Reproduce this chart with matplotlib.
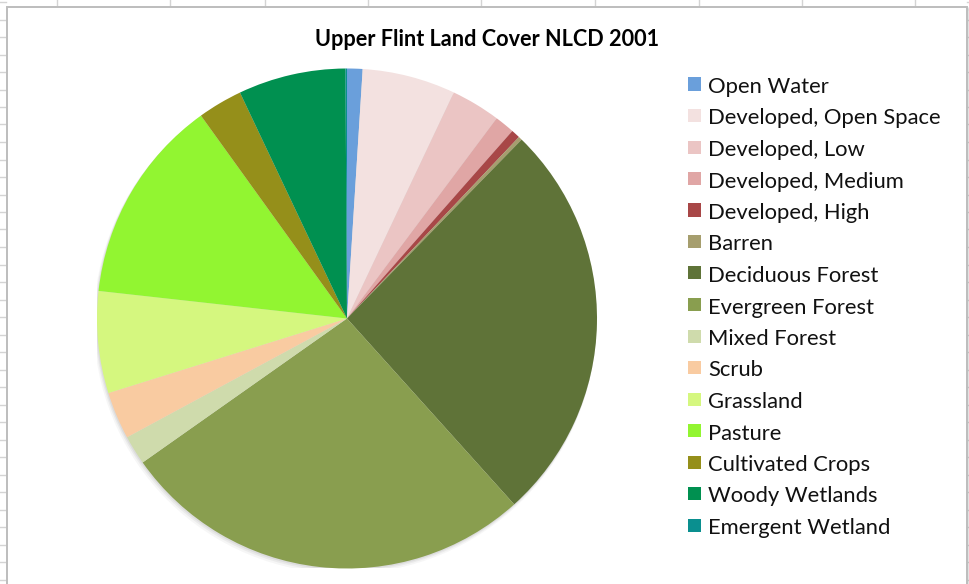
import matplotlib
matplotlib.use("Agg")
import matplotlib.pyplot as plt
from matplotlib.patches import Rectangle, Circle
from matplotlib.lines import Line2D

# Land cover classes (share of basin area, %) and their NLCD-style colours
categories = [
    "Open Water", "Developed, Open Space", "Developed, Low", "Developed, Medium",
    "Developed, High", "Barren", "Deciduous Forest", "Evergreen Forest",
    "Mixed Forest", "Scrub", "Grassland", "Pasture", "Cultivated Crops",
    "Woody Wetlands", "Emergent Wetland",
]
shares = [1.00, 6.03, 3.19, 1.28, 0.57, 0.24, 26.03, 26.89,
          1.89, 3.06, 6.58, 13.31, 2.89, 6.94, 0.10]
colors = ["#6A9FDB", "#F3E1E0", "#EBC5C4", "#E0A6A5", "#A84747", "#A69E6E",
          "#5F7338", "#899E4F", "#CFDBAC", "#F9CBA1", "#D5F77F", "#92F531",
          "#958F1A", "#009050", "#0A8F8F"]
title = "Upper Flint Land Cover NLCD 2001"

W, H = 970, 584
fig = plt.figure(figsize=(W / 100, H / 100), dpi=100)
fig.patch.set_facecolor("white")


def fx(px):
    return px / W


def fy(py):
    return 1 - py / H


# worksheet gridlines around the embedded chart
grid_col = "#D4D4D4"
for gx in [57, 170, 265, 368, 481, 595, 699, 802, 915]:
    fig.add_artist(Line2D([fx(gx), fx(gx)], [fy(0), fy(7)], color=grid_col, lw=1, zorder=-5))
ry = 2
while ry < H:
    fig.add_artist(Line2D([fx(0), fx(6)], [fy(ry), fy(ry)], color=grid_col, lw=1, zorder=-5))
    fig.add_artist(Line2D([fx(967), fx(970)], [fy(ry), fy(ry)], color=grid_col, lw=1, zorder=-5))
    ry += 17.5

# chart area with a soft drop shadow
for off, a in [(3, 0.08), (2, 0.12), (1, 0.18)]:
    fig.add_artist(Rectangle((fx(7 + off), fy(H + 20)), fx(960), (H + 13 - off) / H,
                             transform=fig.transFigure, facecolor="none",
                             edgecolor="#888888", alpha=a, lw=1.2, zorder=-4))
fig.add_artist(Rectangle((fx(7), fy(H + 20)), fx(960), (H + 13) / H,
                         transform=fig.transFigure, facecolor="white",
                         edgecolor="#BDBDBD", lw=1.4, zorder=-3))

# pie axes: centre (347, 318.5) px, radius 250 px
cx, cy, r = 347, 318.5, 250
ax = fig.add_axes([fx(cx - r), fy(cy + r), 2 * r / W, 2 * r / H])
ax.set_zorder(5)
ax.patch.set_visible(False)

# faint shadow under the pie
for d, a in [(0.016, 0.05), (0.010, 0.07), (0.005, 0.09)]:
    ax.add_patch(Circle((-d * 0.5, -d), 1.0 + d * 0.3, color="#555555", alpha=a, lw=0))

wedges, _ = ax.pie(shares, colors=colors, startangle=90, counterclock=False,
                   radius=1.0, wedgeprops=dict(linewidth=0))
ax.set_xlim(-1, 1)
ax.set_ylim(-1, 1)
ax.set_aspect("equal")
ax.axis("off")

fig.text(fx(487), fy(46), title, ha="center", va="baseline",
         fontsize=15.6, fontweight="bold", family="Lato", color="#000000", zorder=6)

# legend
for i, (lab, col) in enumerate(zip(categories, colors)):
    yc = 84 + 31.5 * i
    fig.add_artist(Rectangle((fx(688), fy(yc + 6.5)), fx(13), 13 / H,
                             transform=fig.transFigure, facecolor=col,
                             edgecolor="none", zorder=6))
    fig.text(fx(708), fy(yc + 9), lab, ha="left", va="baseline",
             fontsize=15.8, family="Lato", color="#111111", zorder=6)

fig.savefig("out.png", dpi=100)
